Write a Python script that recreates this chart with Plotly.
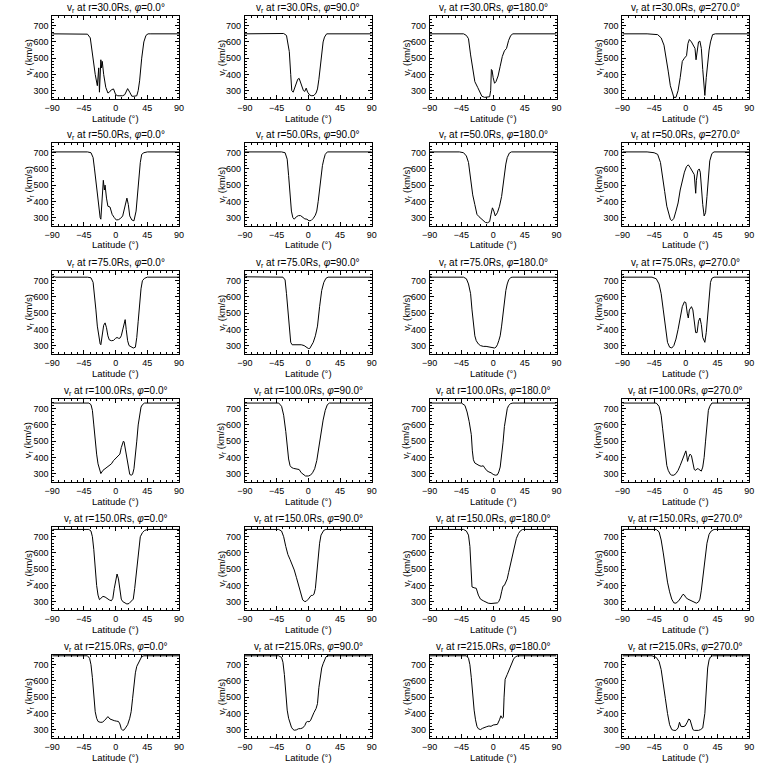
import plotly.graph_objects as go

# ---------------- data ----------------
RADII = [30.0, 50.0, 75.0, 100.0, 150.0, 215.0]
PHIS = [0.0, 90.0, 180.0, 270.0]
X_TICKS = [-90, -45, 0, 45, 90]
Y_TICKS = [300, 400, 500, 600, 700]

# r = 30 Rs
LAT_30_0 = [-90,-45,-40,-36,-32,-29,-26,-24,-23,-22,-21,-20,-19,-17,-14,-11,-9,-6,-3,0,3,6,10,13,17,20,23,26,30,32,34,37,40,43,46,50,90]
V_30_0 = [650,650,648,625,480,400,330,440,290,450,490,440,480,400,320,285,290,305,310,275,268,268,268,275,312,290,265,265,268,300,360,500,600,640,650,650,650]
LAT_30_90 = [-90,-40,-35,-31,-29,-27,-25,-23.5,-21.5,-18,-15,-13,-10,-7,-5,-3,-1,2,5,8,11,13,15,17,19,21,23,26,90]
V_30_90 = [650,650,652,640,600,540,400,300,290,340,370,375,340,300,295,315,290,272,268,270,285,310,370,450,540,600,630,650,650]
LAT_30_180 = [-90,-42,-38,-35,-32,-29,-26,-22,-19,-16,-12,-8,-5,-3.5,-2.5,-1.5,0,2,4,7,10,13,16,19,22,25,28,90]
V_30_180 = [650,650,640,620,520,420,355,320,290,265,258,258,262,300,430,425,380,345,355,390,450,510,545,560,610,640,650,650]
LAT_30_270 = [-90,-55,-40,-35,-31,-28,-25,-22,-19,-17,-14,-11,-8,-5,-2,1,3,5,8,11,13,14.5,16,18,20,22,24,26,27,29,31,33,35,38,42,90]
V_30_270 = [650,650,645,625,580,510,420,330,275,258,258,300,380,480,500,515,590,615,600,570,560,490,540,600,605,560,430,300,270,380,470,550,600,645,650,650]

# r = 50 Rs
LAT_50_0 = [-90,-40,-35,-32,-30,-27,-24,-22,-21,-19,-17.5,-16,-15,-13,-11,-8,-5,-2,1,4,7,10,12,14,16,18,20,23,26,29,31,33,35,37,40,45,90]
V_50_0 = [705,705,700,670,600,480,360,300,290,420,530,470,500,420,370,365,320,300,285,287,295,310,350,390,420,380,310,285,280,340,440,560,640,690,700,705,705]
LAT_50_90 = [-90,-38,-33,-30,-28,-26,-24,-22,-20,-17,-14,-11,-8,-5,-2,1,4,7,10,12,14,16,18,20,22,24,27,90]
V_50_90 = [705,705,700,660,560,420,340,300,290,305,312,312,300,292,290,280,282,295,315,340,400,480,560,620,660,690,705,705]
LAT_50_180 = [-90,-48,-42,-38,-35,-32,-29,-26,-23,-20,-17,-14,-11,-8,-5,-3,-1,1,3,6,9,12,14,16,18,20,23,26,90]
V_50_180 = [705,705,700,680,640,540,440,380,320,305,295,285,270,268,275,320,360,340,310,330,370,430,500,570,630,670,698,705,705]
LAT_50_270 = [-90,-55,-45,-40,-36,-33,-30,-27,-24,-22,-20,-17,-14,-11,-8,-5,-2,1,3.5,6,9,12,14,15,17,19,20.5,22,24,26,28,30,32,34,37,40,90]
V_50_270 = [705,705,700,690,640,560,460,370,310,290,280,295,340,390,470,530,580,615,625,610,585,565,450,530,590,600,580,480,380,310,330,430,560,650,695,705,705]

# r = 75 Rs
LAT_75_0 = [-90,-85,-40,-35,-32,-30,-28,-26,-24,-22,-21,-19,-17,-15,-13,-11,-9,-6,-3,0,2,4,6,8,10,12,13.5,15,17,19,22,25,28,30,32,34,36,38,41,45,90]
V_75_0 = [730,722,722,718,690,620,520,420,350,310,305,360,425,440,410,360,335,330,332,345,350,345,345,360,400,445,460,400,330,300,290,285,290,350,450,560,650,700,715,722,722]
LAT_75_90 = [-90,-87,-36,-33,-31,-29,-27,-25,-23,-20,-15,-10,-6,-3,0,2,4,7,10,13,16,19,22,25,28,90]
V_75_90 = [730,724,722,705,620,520,400,320,305,305,308,305,300,290,282,282,295,320,360,420,540,640,690,715,722,722]
LAT_75_180 = [-90,-87,-42,-38,-35,-32,-30,-28,-26,-24,-21,-18,-14,-10,-6,-2,2,4,6,8,10,12,14,16,18,20,22,25,28,90]
V_75_180 = [730,722,722,712,680,620,520,430,360,330,310,300,295,295,293,290,285,290,305,330,360,420,500,580,640,680,705,720,722,722]
LAT_75_270 = [-90,-87,-48,-42,-38,-35,-32,-29,-26,-23,-20,-17,-14,-11,-8,-5,-2,0,2,3.5,5,8,10,12,14,16,18,20,22,24,26,27,29,31,33,35,37,40,90]
V_75_270 = [730,722,722,712,680,620,520,400,320,290,285,300,340,400,470,540,570,565,500,470,520,540,520,450,380,380,450,470,430,350,325,320,380,500,620,690,715,722,722]

# r = 100 Rs
LAT_100_0 = [-90,-38,-35,-33,-31,-29,-27,-25,-23,-21,-18,-15,-12,-9,-6,-3,0,3,6,8,10,11,12,13,14,16,18,20,22,24,26,28,30,32,34,36,38,41,90]
V_100_0 = [735,735,725,690,600,500,420,360,320,300,320,330,335,345,360,380,395,405,420,460,490,500,495,470,430,370,320,295,290,295,330,400,500,600,670,710,725,735,735]
LAT_100_90 = [-90,-42,-38,-35,-32,-30,-28,-26,-24,-21,-17,-13,-10,-7,-4,0,3,6,9,12,15,18,21,24,27,30,90]
V_100_90 = [735,735,715,660,560,470,390,350,338,332,330,325,305,292,285,285,290,305,330,380,460,560,630,690,725,735,735]
LAT_100_180 = [-90,-45,-40,-37,-34,-31,-29.5,-28,-26,-23,-20,-17,-14,-12,-9,-6,-3,0,3,6,8,10,12,14,16,18,20,22,25,28,90]
V_100_180 = [735,735,720,680,620,540,440,385,365,355,350,345,348,335,318,310,305,295,290,292,310,340,400,490,590,660,700,720,732,735,735]
LAT_100_270 = [-90,-42,-38,-35,-33,-31,-29,-27,-25,-22,-20,-17,-14,-11,-8,-5,-2,0,1,2.5,4,6,8,10,12,14,16,18,20,22,24,26,28,30,32,34,37,90]
V_100_270 = [735,735,715,660,580,500,420,350,320,295,290,290,300,320,350,380,410,440,420,375,400,420,410,370,325,320,330,328,320,315,340,400,500,620,690,715,735,735]

# r = 150 Rs
LAT_150_0 = [-90,-38,-35,-33,-31,-29,-27,-25,-23,-21,-18,-15,-12,-9,-6,-4,-2,0,2,4,6,8,10,13,16,19,22,25,27,29,31,33,35,38,41,45,90]
V_150_0 = [745,745,735,700,620,500,400,340,312,320,332,328,318,310,305,320,380,440,470,440,370,315,300,290,285,288,300,315,380,460,560,650,700,725,738,745,745]
LAT_150_90 = [-90,-42,-38,-35,-32,-29,-26,-23,-20,-17,-14,-11,-8,-5,-3,0,2,4,6,8,10,12,14,16,18,20,22,25,90]
V_150_90 = [745,745,735,700,640,590,560,530,495,450,400,350,310,300,302,315,330,338,338,345,380,480,580,660,710,730,740,745,745]
LAT_150_180 = [-90,-42,-38,-35,-33,-31.5,-30,-27,-24,-21,-18,-14,-10,-7,-3,0,3,6,8,10,12,14,16,18,20,22,24,26,28,30,33,36,39,42,45,90]
V_150_180 = [745,745,735,710,640,480,390,385,382,340,315,305,295,290,288,288,290,292,300,320,360,395,400,420,440,480,520,560,600,640,690,720,738,745,745,745]
LAT_150_270 = [-90,-42,-38,-35,-32,-29,-26,-23,-20,-17,-14,-10,-7,-4,-2,0,3,6,9,12,15,18,20,22,24,26,28,30,33,36,40,90]
V_150_270 = [745,745,730,680,600,500,420,360,315,292,290,305,330,345,340,325,315,308,303,297,290,298,315,370,450,530,600,660,715,735,745,745]

# r = 215 Rs
LAT_215_0 = [-90,-40,-37,-35,-33,-31,-29,-27,-25,-22,-19,-16,-13,-11,-8,-5,-2,1,4,6,8,10,12,14,17,20,22,24,26,28,30,32,34,37,40,90]
V_215_0 = [755,755,740,700,620,480,410,370,350,345,345,355,375,380,365,358,355,352,350,335,305,295,298,310,330,370,410,490,580,650,690,710,730,750,755,755]
LAT_215_90 = [-90,-42,-38,-36,-34,-32,-30,-28,-26,-24,-22,-20,-17,-14,-11,-8,-5,-3,-1,1,3,5,8,11,13,15,17,19,21,23,25,27,90]
V_215_90 = [755,755,745,715,640,520,420,370,335,315,302,296,298,305,306,310,325,345,350,348,355,380,405,430,460,560,640,680,706,730,748,755,755]
LAT_215_180 = [-90,-38,-35,-33,-31,-29,-27,-25,-23,-21,-18,-15,-12,-9,-6,-3,0,3,6,9,11,13,14.5,15.5,17,20,23,26,29,32,35,90]
V_215_180 = [755,755,740,700,620,500,420,360,320,305,300,308,315,318,322,320,328,330,332,360,385,370,375,500,610,640,670,705,735,750,755,755]
LAT_215_270 = [-90,-48,-42,-38,-35,-32,-29,-26,-23,-20,-17,-14,-11,-9,-7,-4,-1,2,4,6,8,10,12,15,18,21,24,27,29,31,33,35,38,42,90]
V_215_270 = [755,755,745,720,670,590,490,400,330,300,295,295,310,345,320,318,322,345,365,360,320,300,295,293,295,300,310,400,560,680,730,748,755,755,755]

CURVES = {
    (30.0, 0.0): (LAT_30_0, V_30_0), (30.0, 90.0): (LAT_30_90, V_30_90),
    (30.0, 180.0): (LAT_30_180, V_30_180), (30.0, 270.0): (LAT_30_270, V_30_270),
    (50.0, 0.0): (LAT_50_0, V_50_0), (50.0, 90.0): (LAT_50_90, V_50_90),
    (50.0, 180.0): (LAT_50_180, V_50_180), (50.0, 270.0): (LAT_50_270, V_50_270),
    (75.0, 0.0): (LAT_75_0, V_75_0), (75.0, 90.0): (LAT_75_90, V_75_90),
    (75.0, 180.0): (LAT_75_180, V_75_180), (75.0, 270.0): (LAT_75_270, V_75_270),
    (100.0, 0.0): (LAT_100_0, V_100_0), (100.0, 90.0): (LAT_100_90, V_100_90),
    (100.0, 180.0): (LAT_100_180, V_100_180), (100.0, 270.0): (LAT_100_270, V_100_270),
    (150.0, 0.0): (LAT_150_0, V_150_0), (150.0, 90.0): (LAT_150_90, V_150_90),
    (150.0, 180.0): (LAT_150_180, V_150_180), (150.0, 270.0): (LAT_150_270, V_150_270),
    (215.0, 0.0): (LAT_215_0, V_215_0), (215.0, 90.0): (LAT_215_90, V_215_90),
    (215.0, 180.0): (LAT_215_180, V_215_180), (215.0, 270.0): (LAT_215_270, V_215_270),
}

# ---------------- layout ----------------
W = H = 768
COL_LEFT = [45, 241, 429, 625]
BOX_W = 129
ROW_TOP = [16, 143, 271, 399, 527, 655]
BOX_H = 83
FONT = "Liberation Sans"

fig = go.Figure()
layout = dict(
    width=W, height=H, margin=dict(l=0, r=0, t=0, b=0),
    paper_bgcolor="white", plot_bgcolor="white", showlegend=False,
    font=dict(family=FONT, color="black", size=9),
)
annotations = []

for i, r in enumerate(RADII):
    for j, phi in enumerate(PHIS):
        k = i * 4 + j + 1
        xa = "x" if k == 1 else f"x{k}"
        ya = "y" if k == 1 else f"y{k}"
        lat, v = CURVES[(r, phi)]
        fig.add_trace(go.Scatter(x=lat, y=v, mode="lines", xaxis=xa, yaxis=ya,
                                 line=dict(color="black", width=1), hoverinfo="skip"))
        x0 = COL_LEFT[j] / W
        x1 = (COL_LEFT[j] + BOX_W) / W
        y1 = 1 - ROW_TOP[i] / H
        y0 = 1 - (ROW_TOP[i] + BOX_H) / H
        common = dict(showline=True, linecolor="black", linewidth=1, mirror="allticks",
                      ticks="inside", ticklen=4, tickcolor="black", tickwidth=1,
                      showgrid=False, zeroline=False, tickfont=dict(family=FONT, size=9, color="black"))
        layout["xaxis" if k == 1 else f"xaxis{k}"] = dict(
            domain=[x0, x1], anchor=ya, range=[-90, 90], tickvals=X_TICKS,
            minor=dict(ticks="inside", ticklen=2, dtick=9, tickcolor="black"),
            ticklabelstandoff=0, **common)
        layout["yaxis" if k == 1 else f"yaxis{k}"] = dict(
            domain=[y0, y1], anchor=xa, range=[248, 760], tickvals=Y_TICKS,
            minor=dict(ticks="inside", ticklen=2, dtick=20, tickcolor="black"),
            ticklabelstandoff=1, **common)
        xc = (x0 + x1) / 2
        annotations.append(dict(
            text=f"v<sub>r</sub> at r={r:.1f}Rs, <i>φ</i>={phi:.1f}°",
            x=xc, y=1 - (ROW_TOP[i] - 8) / H, xref="paper", yref="paper",
            xanchor="center", yanchor="middle", borderpad=0,
            showarrow=False, font=dict(family=FONT, size=10, color="black")))
        annotations.append(dict(
            text="Latitude (°)", x=xc, y=y0 - 19 / H, xref="paper", yref="paper",
            xanchor="center", yanchor="middle", showarrow=False, borderpad=0,
            font=dict(family=FONT, size=9.5, color="black")))
        annotations.append(dict(
            text="v<sub>r</sub> (km/s)", x=(COL_LEFT[j] - 24) / W, y=(y0 + y1) / 2,
            xref="paper", yref="paper", xanchor="center", yanchor="middle", textangle=-90,
            showarrow=False, borderpad=0, font=dict(family=FONT, size=9.5, color="black")))

layout["annotations"] = annotations
fig.update_layout(**layout)
fig.write_html("out.html", config={"displayModeBar": False},
               post_script="document.body.style.margin='0';document.body.style.overflow='hidden';")
